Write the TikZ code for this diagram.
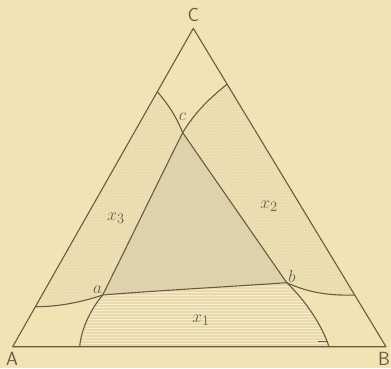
\documentclass[tikz,border=0pt]{standalone}
\usetikzlibrary{patterns}
\definecolor{bgc}{HTML}{F1E3B4}
\definecolor{bandc}{HTML}{E9DBAB}
\definecolor{bandl}{HTML}{F5EBC9}
\definecolor{midc}{HTML}{DFD2A6}
\definecolor{dotc}{HTML}{A29470}
\definecolor{onec}{HTML}{E8DAAA}
\definecolor{onel}{HTML}{F6EDCE}
\definecolor{inkc}{HTML}{665D43}
\tikzset{
  curve/.style={draw=inkc,line width=1.1pt,line join=round},
  vlabel/.style={text=inkc,font=\sffamily\fontsize{19}{22}\selectfont,inner sep=0pt},
  plabel/.style={text=inkc,font=\fontsize{19}{22}\selectfont,inner sep=0pt},
}
\begin{document}
\begin{tikzpicture}[x=1pt,y=-1pt]
\fill[bgc] (0,0) rectangle (391,368);
\useasboundingbox (0,0) rectangle (391,368);
% key points
\coordinate (A) at (12.7,346.7);
\coordinate (B) at (386,346.7);
\coordinate (C) at (193.3,28.3);
\coordinate (p1) at (157.3,91.7);
\coordinate (p2) at (227.3,84);
\coordinate (c) at (182.7,132.7);
\coordinate (b) at (286.7,282.7);
\coordinate (a) at (102.7,295);
\coordinate (e1) at (329,346.7);
\coordinate (e2) at (79.7,346.7);
\coordinate (s3) at (35.2,306.7);
\coordinate (e3) at (354.5,295);
% x3 band
\fill[bandc] (s3) -- (p1) .. controls (168,104) and (176,116) .. (c) -- (b)
  .. controls (240,286) and (150,291) .. (a) .. controls (85,301) and (60,307) .. (s3) -- cycle;
\fill[pattern=crosshatch dots,pattern color=bandl] (s3) -- (p1) .. controls (168,104) and (176,116) .. (c) -- (b)
  .. controls (240,286) and (150,291) .. (a) .. controls (85,301) and (60,307) .. (s3) -- cycle;
% x2 band
\fill[bandc] (p2) -- (e3) .. controls (325,296) and (305,291) .. (b)
  .. controls (240,286) and (150,291) .. (a) .. controls (130,240) and (160,178) .. (c)
  .. controls (195,112) and (210,98) .. (p2) -- cycle;
\fill[pattern=crosshatch dots,pattern color=bandl] (p2) -- (e3) .. controls (325,296) and (305,291) .. (b)
  .. controls (240,286) and (150,291) .. (a) .. controls (130,240) and (160,178) .. (c)
  .. controls (195,112) and (210,98) .. (p2) -- cycle;
% centre overlap
\fill[midc] (a) .. controls (130,240) and (160,178) .. (c) -- (b)
  .. controls (240,286) and (150,291) .. (a) -- cycle;
\fill[pattern=crosshatch dots,pattern color=dotc!40] (a) .. controls (130,240) and (160,178) .. (c) -- (b)
  .. controls (240,286) and (150,291) .. (a) -- cycle;
% x1
\fill[onec] (a) .. controls (150,291) and (240,286) .. (b)
  .. controls (305,300) and (322,325) .. (e1) -- (e2)
  .. controls (81,330) and (90,310) .. (a) -- cycle;
\fill[pattern=horizontal lines,pattern color=onel] (a) .. controls (150,291) and (240,286) .. (b)
  .. controls (305,300) and (322,325) .. (e1) -- (e2)
  .. controls (81,330) and (90,310) .. (a) -- cycle;
% triangle
\draw[curve] (A) -- (B) -- (C) -- cycle;
% curves
\draw[curve] (p1) .. controls (168,104) and (176,116) .. (c) -- (b)
  .. controls (305,300) and (322,325) .. (e1);
\draw[curve] (p2) .. controls (210,98) and (195,112) .. (c)
  .. controls (160,178) and (130,240) .. (a) .. controls (90,310) and (81,330) .. (e2);
\draw[curve] (s3) .. controls (60,307) and (85,301) .. (a)
  .. controls (150,291) and (240,286) .. (b) .. controls (305,291) and (325,296) .. (e3);
\draw[inkc,line width=0.6pt] (318,341) -- (328,341);
% labels
\node[vlabel] (lC) at (193.3,15) {C};
\node[vlabel] (lA) at (12,359) {A};
\node[vlabel] (lB) at (384,359) {B};
\node[plabel] (lc) at (182.5,117) {$c$};
\node[plabel] (la) at (97.5,290) {$a$};
\node[plabel] (lb) at (292,276) {$b$};
\node[plabel] (lx3) at (116,218) {$x_3$};
\node[plabel] (lx2) at (269,206) {$x_2$};
\node[plabel] (lx1) at (201,320) {$x_1$};
\end{tikzpicture}
\end{document}
